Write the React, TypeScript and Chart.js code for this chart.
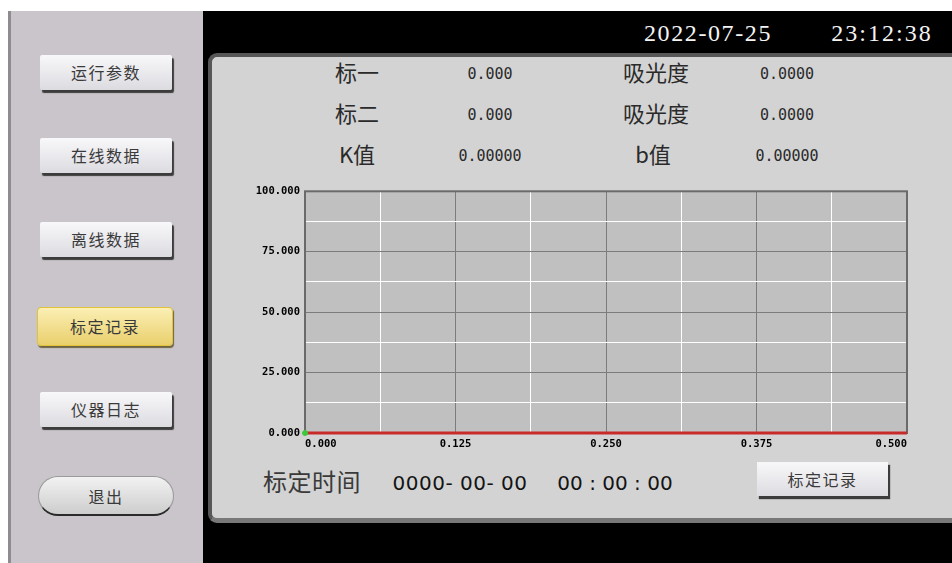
import React, { useEffect, useRef } from "react";
import { Chart, registerables } from "chart.js";
Chart.register(...registerables);

// ---- data ----
const xTickLabels = [0, 0.125, 0.25, 0.375, 0.5];
const yTickLabels = [0, 25, 50, 75, 100];
const curveX = [0, 0.5];
const curveY = [0, 0];
const originX = [0];
const originY = [0];

const headerDate = "2022-07-25";
const headerTime = "23:12:38";
const leftLabels = ["标一", "标二", "K值"];
const leftValues = ["0.000", "0.000", "0.00000"];
const rightLabels = ["吸光度", "吸光度", "b值"];
const rightValues = ["0.0000", "0.0000", "0.00000"];
const navItems = ["运行参数", "在线数据", "离线数据", "标定记录", "仪器日志", "退出"];
const calibTimeLabel = "标定时间";
const calibDate = "0000- 00- 00";
const calibTime = "00 : 00 : 00";
const recordButton = "标定记录";

const CJK = '"Noto Sans CJK SC", "Noto Sans", sans-serif';

function T(props: { cx: number; cy: number; text: string; style?: React.CSSProperties; h?: number }) {
  const h = props.h ?? 30;
  return (
    <div
      style={{
        position: "absolute",
        left: props.cx - 150,
        width: 300,
        top: props.cy - h / 2,
        height: h,
        lineHeight: h + "px",
        textAlign: "center",
        whiteSpace: "pre",
        ...props.style,
      }}
    >
      {props.text}
    </div>
  );
}

const frame = {
  id: "frame",
  beforeDraw(chart: any) {
    const { ctx, chartArea: a } = chart;
    ctx.save();
    ctx.fillStyle = "#c0c0c0";
    ctx.fillRect(a.left, a.top, a.right - a.left, a.bottom - a.top);
    ctx.restore();
  },
  beforeDatasetsDraw(chart: any) {
    const { ctx, chartArea: a } = chart;
    ctx.save();
    ctx.strokeStyle = "#6a6a6a";
    ctx.lineWidth = 2;
    ctx.strokeRect(a.left, a.top, a.right - a.left, a.bottom - a.top);
    ctx.restore();
  },
};

function CalibChart() {
  const ref = useRef<HTMLCanvasElement>(null);
  useEffect(() => {
    if (!ref.current) return;
    const tickFont = { family: '"DejaVu Sans Mono", monospace', size: 10.5, weight: "bold" as const };
    const chart = new Chart(ref.current, {
      type: "line",
      data: {
        datasets: [
          {
            data: originX.map((x, i) => ({ x, y: originY[i] })),
            showLine: false,
            pointRadius: 2.5,
            pointBackgroundColor: "#3cc83c",
            pointBorderColor: "#3cc83c",
            clip: false as any,
          },
          {
            data: curveX.map((x, i) => ({ x, y: curveY[i] })),
            borderColor: "#c82a2a",
            borderWidth: 3,
            pointRadius: 0,
            clip: false as any,
          },
        ],
      },
      options: {
        animation: false,
        responsive: false,
        layout: { padding: { top: 9, right: 13, left: 0, bottom: 0 } },
        plugins: { legend: { display: false }, tooltip: { enabled: false } },
        scales: {
          x: {
            type: "linear",
            min: 0,
            max: 0.5,
            border: { display: false },
            grid: {
              drawTicks: false,
              lineWidth: 1,
              color: (c: any) => (xTickLabels.includes(c.tick?.value) ? "#7c7c7c" : "#ffffff"),
            },
            ticks: {
              stepSize: 0.0625,
              autoSkip: false,
              maxRotation: 0,
              align: "inner",
              padding: 5,
              color: "#000",
              font: tickFont,
              callback: (v: any) => (xTickLabels.includes(Number(v)) ? Number(v).toFixed(3) : ""),
            },
            afterFit: (s: any) => {
              s.height = 27;
            },
          },
          y: {
            type: "linear",
            min: 0,
            max: 100,
            border: { display: false },
            grid: {
              drawTicks: false,
              lineWidth: 1,
              color: (c: any) => (yTickLabels.includes(c.tick?.value) ? "#7c7c7c" : "#ffffff"),
            },
            ticks: {
              stepSize: 12.5,
              autoSkip: false,
              padding: 5,
              color: "#000",
              font: tickFont,
              callback: (v: any) => (yTickLabels.includes(Number(v)) ? Number(v).toFixed(3) : ""),
            },
            afterFit: (s: any) => {
              s.width = 65;
            },
          },
        },
      },
      plugins: [frame],
    } as any);
    return () => chart.destroy();
  }, []);
  return (
    <canvas
      ref={ref}
      width={680}
      height={280}
      style={{ position: "absolute", left: 240, top: 180, width: 680, height: 280 }}
    />
  );
}

const navTops = [55, 138, 222, 307, 392, 476];

function NavButton({ label, i }: { label: string; i: number }) {
  const top = navTops[i];
  const base: React.CSSProperties = {
    position: "absolute",
    left: 40,
    top,
    width: 132,
    height: 35,
    lineHeight: "35px",
    textAlign: "center",
    fontFamily: CJK,
    fontSize: 16,
    letterSpacing: 1.5,
    color: "#3a3a3a",
    boxSizing: "border-box",
  };
  if (i === 3) {
    return (
      <div
        style={{
          ...base,
          left: 37,
          width: 136,
          height: 39,
          lineHeight: "37px",
          background: "linear-gradient(#fbefb4, #e9cf6c)",
          border: "1.5px solid #e2c23a",
          borderRadius: 4,
          boxShadow: "1px 2px 1px #6e6440",
        }}
      >
        {label}
      </div>
    );
  }
  if (i === 5) {
    return (
      <div
        style={{
          ...base,
          left: 38,
          width: 136,
          height: 40,
          lineHeight: "38px",
          background: "linear-gradient(#f2f2f2, #cdcdcd)",
          borderRadius: 20,
          border: "1px solid #9a9a9a",
          borderBottom: "2px solid #2a2a2a",
        }}
      >
        {label}
      </div>
    );
  }
  return (
    <div
      style={{
        ...base,
        background: "linear-gradient(#f8f8fa, #dcdbe0)",
        borderRadius: 2,
        boxShadow: "2px 3px 1px #3c3c3c",
      }}
    >
      {label}
    </div>
  );
}

export default function App() {
  const labelStyle: React.CSSProperties = { fontFamily: CJK, fontSize: 22, color: "#2a2a2a" };
  const valueStyle: React.CSSProperties = {
    fontFamily: '"DejaVu Sans Mono", monospace',
    fontSize: 15,
    color: "#2a2a2a",
  };
  const rowY = [73, 114, 155];
  return (
    <div
      style={{
        position: "fixed",
        left: 0,
        top: 0,
        width: 952,
        height: 563,
        background: "#ffffff",
        overflow: "hidden",
      }}
    >
      {/* left navigation panel */}
      <div
        style={{
          position: "absolute",
          left: 8,
          top: 11,
          width: 195,
          height: 552,
          background: "#c9c5ca",
          borderLeft: "3px solid #8e8c8e",
          boxSizing: "border-box",
        }}
      />
      {navItems.map((n, i) => (
        <NavButton key={i} label={n} i={i} />
      ))}

      {/* black screen area */}
      <div style={{ position: "absolute", left: 203, top: 11, width: 749, height: 552, background: "#000" }} />
      <T
        cx={708}
        cy={33}
        text={headerDate}
        style={{ fontFamily: '"Liberation Serif", serif', fontSize: 24, letterSpacing: 1.6, color: "#f4f4f4" }}
      />
      <T
        cx={882}
        cy={33}
        text={headerTime}
        style={{ fontFamily: '"Liberation Serif", serif', fontSize: 24, letterSpacing: 2, color: "#f4f4f4" }}
      />

      {/* main panel */}
      <div
        style={{
          position: "absolute",
          left: 208,
          top: 53,
          width: 770,
          height: 470,
          background: "#d3d3d3",
          borderTop: "4px solid #575757",
          borderLeft: "4px solid #575757",
          borderBottom: "5px solid #787878",
          borderRadius: "9px 0 0 9px",
          boxSizing: "border-box",
        }}
      />

      {leftLabels.map((l, i) => (
        <T key={"ll" + i} cx={357} cy={rowY[i] - 2} text={l} style={labelStyle} />
      ))}
      {leftValues.map((v, i) => (
        <T key={"lv" + i} cx={490} cy={rowY[i] + 1} text={v} style={valueStyle} />
      ))}
      {rightLabels.map((l, i) => (
        <T key={"rl" + i} cx={i === 2 ? 653 : 656} cy={rowY[i] - 2} text={l} style={labelStyle} />
      ))}
      {rightValues.map((v, i) => (
        <T key={"rv" + i} cx={787} cy={rowY[i] + 1} text={v} style={valueStyle} />
      ))}

      <CalibChart />

      <T cx={312} cy={481} text={calibTimeLabel} style={{ fontFamily: CJK, fontSize: 24, color: "#3a3a3a", letterSpacing: 0.5 }} />
      <T
        cx={460}
        cy={483}
        text={calibDate}
        style={{ fontFamily: '"DejaVu Sans", sans-serif', fontSize: 20, letterSpacing: 0.5, color: "#141414" }}
      />
      <T
        cx={615}
        cy={483}
        text={calibTime}
        style={{ fontFamily: '"DejaVu Sans", sans-serif', fontSize: 20, color: "#141414" }}
      />

      <div
        style={{
          position: "absolute",
          left: 757,
          top: 462,
          width: 131,
          height: 34,
          lineHeight: "34px",
          textAlign: "center",
          background: "linear-gradient(#f8f8fa, #dcdbe0)",
          boxShadow: "2px 3px 1px #3c3c3c",
          fontFamily: CJK,
          fontSize: 16,
          letterSpacing: 1.5,
          color: "#3a3a3a",
        }}
      >
        {recordButton}
      </div>
    </div>
  );
}
